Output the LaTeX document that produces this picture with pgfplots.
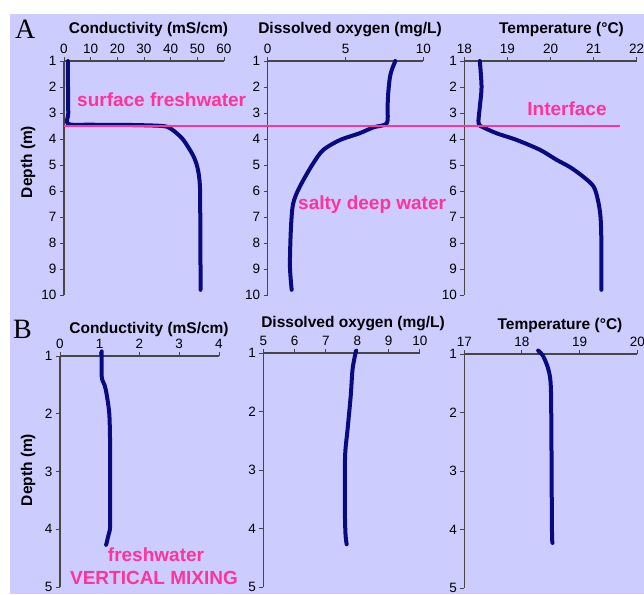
\documentclass[border=0pt]{standalone}
\usepackage{pgfplots}
\pgfplotsset{compat=1.18}
\usepackage{fontspec}
\setmainfont{Liberation Sans}
\newfontfamily\seriffont{Liberation Serif}
\definecolor{lav}{RGB}{204,204,255}
\definecolor{hotpink}{RGB}{255,51,153}
\definecolor{navy}{RGB}{10,10,128}
\definecolor{axgray}{RGB}{70,70,70}

\pgfplotsset{
  prof/.style={
    scale only axis, anchor=north west,
    y dir=reverse,
    axis x line*=top, axis y line*=left,
    axis line style={-, axgray, line width=1.5pt},
    tick style={axgray, line width=1pt},
    tick align=outside,
    major tick length=4pt,
    /pgf/number format/assume math mode=true,
    tick label style={font=\fontsize{13.5}{15}\selectfont, text=black},
    clip=false,
  },
  curve/.style={navy, line width=4pt, line join=round, line cap=round, smooth, no marks},
}
\tikzset{
  ttl/.style={font=\bfseries\fontsize{15.5}{17}\selectfont, inner sep=0pt},
  pinktext/.style={text=hotpink, font=\bfseries\fontsize{19}{21}\selectfont, inner sep=0pt},
}

\begin{document}
\begin{tikzpicture}
\useasboundingbox (0pt,0pt) rectangle (644pt,-594pt);
\fill[white] (0pt,0pt) rectangle (644pt,-594pt);
\fill[lav] (10pt,-14pt) rectangle (644pt,-594pt);

% ---------- Panel A ----------
\begin{axis}[prof, at={(64pt,-61pt)}, width=160pt, height=234pt,
  xmin=0, xmax=60, ymin=1, ymax=10, xtick={0,10,...,60}, ytick={1,...,10}]
\addplot[curve] coordinates {(1.5,1.0) (1.5,2.0) (1.6,3.0) (1.6,3.42) (10,3.45) (25,3.46) (37,3.5) (40,3.6) (42.5,3.8) (44.5,4.0) (46.5,4.3) (48.5,4.65) (49.8,5.0) (50.6,5.4) (51,5.9) (51.1,7) (51.1,8) (51.2,9) (51.2,9.8)};
\coordinate (pl) at (axis cs:0,3.5);
\coordinate (pr) at (axis cs:208.5,3.5);
\end{axis}

\begin{axis}[prof, at={(267.7pt,-61pt)}, width=155.6pt, height=234pt,
  xmin=0, xmax=10, ymin=1, ymax=10, xtick={0,5,10}, ytick={1,...,10}]
\addplot[curve] coordinates {(8.2,1.0) (8.0,1.3) (7.86,1.6) (7.75,2.2) (7.7,2.8) (7.65,3.4) (6.8,3.55) (5.9,3.78) (4.64,4.04) (3.57,4.42) (2.93,4.93) (2.29,5.58) (1.86,6.09) (1.6,6.6) (1.48,7.6) (1.43,8.9) (1.54,9.8)};
\end{axis}

\begin{axis}[prof, at={(464.3pt,-61pt)}, width=172.4pt, height=234pt,
  xmin=18, xmax=22, ymin=1, ymax=10, xtick={18,...,22}, ytick={1,...,10}]
\addplot[curve] coordinates {(18.36,1.0) (18.4,2.0) (18.36,2.76) (18.33,3.4) (18.44,3.55) (18.75,3.78) (19.22,4.04) (19.76,4.42) (20.14,4.8) (20.45,5.08) (20.76,5.45) (21.0,5.83) (21.1,6.35) (21.16,6.99) (21.18,8) (21.18,9.8)};
\end{axis}

% ---------- Panel B ----------
\begin{axis}[prof, at={(60pt,-356pt)}, width=159pt, height=231pt,
  xmin=0, xmax=4, ymin=1, ymax=5, xtick={0,...,4}, ytick={1,...,5}]
\addplot[curve] coordinates {(1.05,0.92) (1.05,1.36) (1.12,1.5) (1.17,1.65) (1.24,2.0) (1.26,2.5) (1.26,2.92) (1.26,3.5) (1.26,3.96) (1.22,4.1) (1.16,4.27)};
\end{axis}

\begin{axis}[prof, at={(263.3pt,-353pt)}, width=156.7pt, height=234pt,
  xmin=5, xmax=10, ymin=1, ymax=5, xtick={5,...,10}, ytick={1,...,5}]
\addplot[curve] coordinates {(7.96,0.96) (7.85,1.27) (7.79,1.73) (7.69,2.3) (7.61,2.76) (7.6,3.56) (7.62,4.07) (7.66,4.27)};
\end{axis}

\begin{axis}[prof, at={(464.3pt,-354pt)}, width=173pt, height=234pt,
  xmin=17, xmax=20, ymin=1, ymax=5, xtick={17,...,20}, ytick={1,...,5}]
\addplot[curve] coordinates {(18.28,0.94) (18.37,1.04) (18.46,1.27) (18.5,1.55) (18.51,2.35) (18.52,4.0) (18.53,4.23)};
\end{axis}

% pink interface line
\draw[hotpink, line width=2.8pt] (pl) -- (pr);

% titles
\node[ttl] at (148.5pt,-29.5pt) {Conductivity (mS/cm)};
\node[ttl] at (350pt,-29.5pt) {Dissolved oxygen (mg/L)};
\node[ttl] at (561.5pt,-29.5pt) {Temperature (°C)};
\node[ttl] at (149pt,-329pt) {Conductivity (mS/cm)};
\node[ttl] at (353pt,-324pt) {Dissolved oxygen (mg/L)};
\node[ttl] at (560pt,-325pt) {Temperature (°C)};
\node[ttl, rotate=90] at (28pt,-162pt) {Depth (m)};
\node[ttl, rotate=90] at (28pt,-470pt) {Depth (m)};

% panel letters
\node[font=\seriffont\fontsize{28}{30}\selectfont, anchor=base west, inner sep=0pt] at (15pt,-38pt) {A};
\node[font=\seriffont\fontsize{28}{30}\selectfont, anchor=base west, inner sep=0pt] at (13pt,-338pt) {B};

% annotations
\node[pinktext, anchor=west] at (77pt,-100pt) {surface freshwater};
\node[pinktext, anchor=west] at (298pt,-205pt) {salty deep water};
\node[pinktext] at (567pt,-109pt) {Interface};
\node[pinktext] at (156pt,-555pt) {freshwater};
\node[pinktext] at (154pt,-578pt) {VERTICAL MIXING};
\end{tikzpicture}
\end{document}
